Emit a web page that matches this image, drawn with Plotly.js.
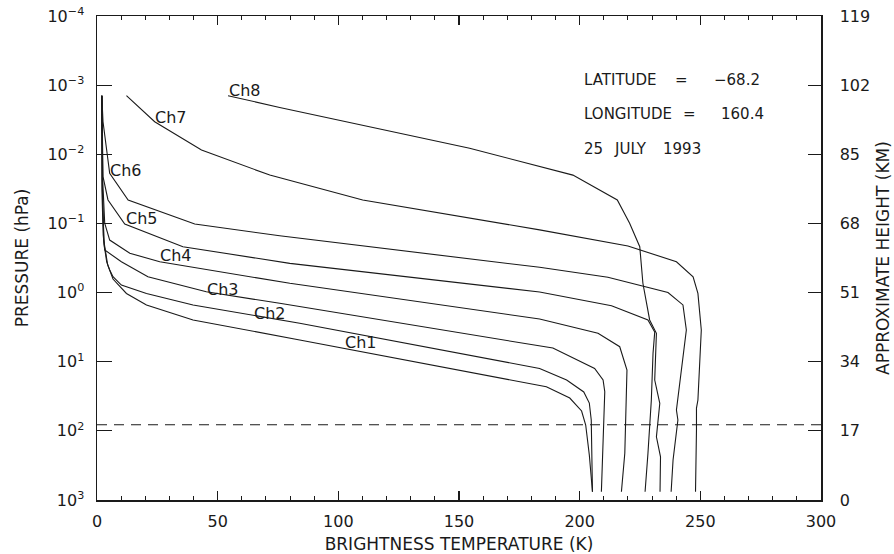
<!DOCTYPE html>
<html>
<head>
<meta charset="utf-8">
<script src="https://cdn.plot.ly/plotly-3.0.1.min.js"></script>
<style>
  html, body { margin: 0; padding: 0; background: #fff; }
  #chart { width: 894px; height: 554px; }
</style>
</head>
<body>
<div id="chart"></div>
<script>
// Brightness temperature (K) vs pressure (hPa) for each channel
const ch1T = [2.0, 2.15, 2.78, 4.43, 6.63, 12.2, 20.5, 39.8, 84.0, 186.2, 195.9, 200.8, 202.5, 204.0, 205.3];
const ch1P = [0.00142, 0.0236, 0.174, 0.399, 0.637, 1.03, 1.51, 2.49, 4.85, 23.0, 33.5, 51.6, 82.3, 223, 759];

const ch2T = [2.0, 2.15, 2.98, 4.02, 5.26, 6.63, 10.1, 20.5, 39.8, 84.0, 183.4, 194.6, 201.7, 204.0, 204.8, 205.3];
const ch2P = [0.00142, 0.0329, 0.205, 0.361, 0.472, 0.590, 0.778, 1.03, 1.51, 2.78, 12.5, 18.4, 27.4, 39.6, 69.7, 759];

const ch3T = [2.0, 2.15, 2.57, 3.19, 10.1, 21.1, 45.3, 75.7, 188.9, 206.2, 209.7, 210.4, 209.0];
const ch3P = [0.00142, 0.0458, 0.147, 0.242, 0.358, 0.590, 0.973, 1.43, 6.34, 12.5, 18.4, 27.2, 759];

const ch4T = [2.0, 2.36, 3.19, 5.26, 13.6, 26.0, 79.9, 183.4, 207.6, 216.6, 219.6, 218.7, 217.3];
const ch4P = [0.00142, 0.0236, 0.0995, 0.174, 0.270, 0.358, 0.734, 2.41, 3.88, 6.07, 13.2, 211, 759];

const ch5T = [2.0, 2.36, 2.49, 4.56, 11.5, 35.6, 79.9, 183.4, 213.2, 228.3, 231.1, 230.4, 229.7, 228.3, 227.1];
const ch5P = [0.00142, 0.00867, 0.0211, 0.0458, 0.102, 0.217, 0.378, 0.982, 1.55, 2.49, 3.72, 7.56, 35.8, 211, 759];

const ch6T = [2.0, 2.49, 5.26, 12.9, 40.5, 75.7, 183.4, 211.7, 236.6, 242.8, 244.2, 242.2, 240.1, 240.7, 238.7, 237.9];
const ch6P = [0.00142, 0.00338, 0.0188, 0.0458, 0.102, 0.151, 0.431, 0.601, 1.00, 1.51, 3.48, 13.2, 50.0, 69.7, 264, 759];

const ch7T = [12.2, 23.9, 43.3, 71.6, 110.1, 183.4, 220.0, 240.1, 247.0, 249.0, 250.4, 249.7, 249.0, 248.4, 248.4, 248.0];
const ch7P = [0.00142, 0.00338, 0.00867, 0.0200, 0.0458, 0.124, 0.212, 0.358, 0.590, 1.03, 3.48, 13.2, 35.8, 46.8, 97.2, 759];

const ch8T = [54.3, 75.7, 154.4, 197.2, 215.6, 220.7, 224.9, 226.2, 229.0, 231.8, 231.1, 233.2, 231.8, 233.5, 233.3];
const ch8P = [0.00142, 0.00210, 0.00818, 0.0200, 0.0458, 0.0995, 0.217, 0.734, 2.49, 3.88, 18.4, 40.0, 122, 237, 759];

const channelNames = ['Ch1', 'Ch2', 'Ch3', 'Ch4', 'Ch5', 'Ch6', 'Ch7', 'Ch8'];

// dashed reference level (hPa) and temperature span
const refPressure = 81.5;
const tempSpan = [0, 300];

// axis tick values / labels
const pressureTicks = [1e-4, 1e-3, 1e-2, 1e-1, 1e0, 1e1, 1e2, 1e3];
const pressureTickText = ['10<sup>\u22124</sup>', '10<sup>\u22123</sup>', '10<sup>\u22122</sup>', '10<sup>\u22121</sup>',
                          '10<sup>0</sup>', '10<sup>1</sup>', '10<sup>2</sup>', '10<sup>3</sup>'];
const heightTicks = [0, 17, 34, 51, 68, 85, 102, 119];

const seriesT = [ch1T, ch2T, ch3T, ch4T, ch5T, ch6T, ch7T, ch8T];
const seriesP = [ch1P, ch2P, ch3P, ch4P, ch5P, ch6P, ch7P, ch8P];

const FONT = 'DejaVu Sans, Arial, sans-serif';
const INK = '#1a1a1a';

const traces = seriesT.map((t, i) => ({
  type: 'scatter', mode: 'lines', name: channelNames[i],
  x: t, y: seriesP[i], xaxis: 'x', yaxis: 'y',
  line: { color: INK, width: 1.1 }, hoverinfo: 'skip', showlegend: false
}));

traces.push({
  type: 'scatter', mode: 'lines', name: 'reference level',
  x: tempSpan, y: [refPressure, refPressure], xaxis: 'x', yaxis: 'y',
  line: { color: INK, width: 1.1, dash: '10px,7px' }, hoverinfo: 'skip', showlegend: false
});

// invisible trace to activate right axis
traces.push({
  type: 'scatter', mode: 'lines', x: tempSpan, y: [0, 0], xaxis: 'x', yaxis: 'y2',
  line: { color: 'rgba(0,0,0,0)', width: 0 }, hoverinfo: 'skip', showlegend: false
});

// label positions (paper coords)
const labelPos = [
  [0.3642, 0.3264], [0.2385, 0.3853], [0.1736, 0.4349], [0.1094, 0.5052],
  [0.0617, 0.5816], [0.0403, 0.6818], [0.1018, 0.7913], [0.2040, 0.8470]
];
const annotations = channelNames.map((n, i) => ({
  text: n, xref: 'paper', yref: 'paper', x: labelPos[i][0], y: labelPos[i][1],
  xanchor: 'center', yanchor: 'middle', showarrow: false,
  font: { family: FONT, size: 16, color: INK }
}));

function txt(text, x, y, anchor) {
  return { text: text, xref: 'paper', yref: 'paper', x: x, y: y, xanchor: anchor, yanchor: 'middle',
           showarrow: false, borderpad: 0, font: { family: FONT, size: 15, color: INK } };
}
annotations.push(txt('LATITUDE', 0.6709, 0.8678, 'left'));
annotations.push(txt('=', 0.8072, 0.8678, 'center'));
annotations.push(txt('\u221268.2', 0.9170, 0.8678, 'right'));
annotations.push(txt('LONGITUDE', 0.6709, 0.7965, 'left'));
annotations.push(txt('=', 0.8186, 0.7965, 'center'));
annotations.push(txt('160.4', 0.9230, 0.7965, 'right'));
annotations.push(txt('25', 0.6709, 0.7252, 'left'));
annotations.push(txt('JULY', 0.7124, 0.7252, 'left'));
annotations.push(txt('1993', 0.7800, 0.7252, 'left'));

const layout = {
  width: 894, height: 554,
  margin: { l: 97, r: 73, t: 16, b: 54, pad: 0 },
  paper_bgcolor: '#fff', plot_bgcolor: '#fff',
  font: { family: FONT, color: INK, size: 16 },
  showlegend: false,
  xaxis: {
    range: tempSpan, tick0: 0, dtick: 50, ticks: 'inside', ticklen: 9, tickwidth: 1.2, tickcolor: INK,
    minor: { dtick: 10, ticks: 'inside', ticklen: 4, tickwidth: 1, tickcolor: INK },
    showline: true, linewidth: 1.5, linecolor: INK, mirror: 'ticks',
    showgrid: false, zeroline: false, ticklabelstandoff: 6,
    tickfont: { family: FONT, size: 16, color: INK },
    title: { text: 'BRIGHTNESS TEMPERATURE (K)', font: { family: FONT, size: 17, color: INK }, standoff: 10 }
  },
  yaxis: {
    type: 'log', range: [3, -4], tickvals: pressureTicks, ticktext: pressureTickText,
    ticks: 'inside', ticklen: 15, tickwidth: 1.2, tickcolor: INK,
    showline: true, linewidth: 1.5, linecolor: INK, mirror: false,
    showgrid: false, zeroline: false, ticklabelstandoff: 8,
    tickfont: { family: FONT, size: 16, color: INK },
    title: { text: 'PRESSURE (hPa)', font: { family: FONT, size: 17, color: INK }, standoff: 14 }
  },
  yaxis2: {
    overlaying: 'y', side: 'right', range: [0, 119], tickvals: heightTicks,
    ticks: 'inside', ticklen: 13, tickwidth: 1.2, tickcolor: INK,
    showline: true, linewidth: 1.5, linecolor: INK,
    showgrid: false, zeroline: false, ticklabelstandoff: 14,
    tickfont: { family: FONT, size: 16, color: INK },
    title: { text: 'APPROXIMATE HEIGHT (KM)', font: { family: FONT, size: 17, color: INK }, standoff: 8 }
  },
  annotations: annotations
};

Plotly.newPlot('chart', traces, layout, { staticPlot: true, displayModeBar: false });
</script>
</body>
</html>
